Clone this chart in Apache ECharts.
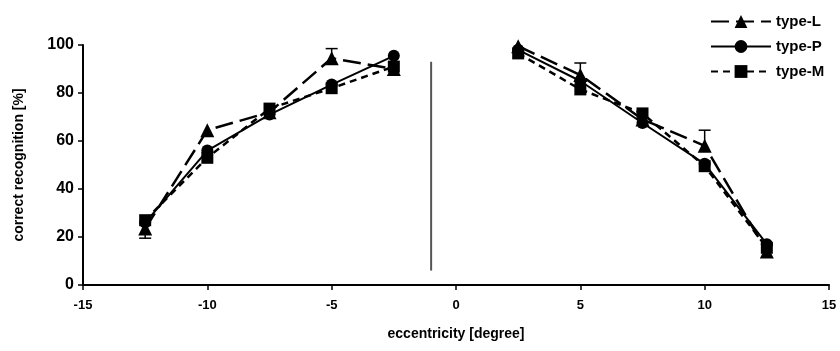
<!DOCTYPE html>
<html><head><meta charset="utf-8">
<script src="https://cdn.jsdelivr.net/npm/echarts@6/dist/echarts.min.js"></script>
<style>html,body{margin:0;padding:0;background:#fff}#c{width:840px;height:351px}</style>
</head><body><div id="c"></div>
<script>
const xLeft = [-12.5, -10, -7.5, -5, -2.5];
const xRight = [2.5, 5, 7.5, 10, 12.5];
const typeL_left = [23.5, 64.5, 72, 94.5, 90];
const typeL_right = [99.5, 87.5, 69, 58, 14];
const typeP_left = [26, 56, 71, 83.5, 95.5];
const typeP_right = [98, 85, 67.5, 50.5, 17];
const typeM_left = [27, 53, 73.5, 82, 91];
const typeM_right = [96.5, 81.5, 71.5, 49.5, 15.5];
// error bars: [x, center, low, high]
const errL = [[-12.5, 23.5, 19.5, 23.5], [-5, 94.5, 94.5, 98.5], [5, 87.5, 87.5, 92.5], [10, 58, 58, 64.5]];
const divider = [[-1, 93], [-1, 6]];
const xTicks = [-15, -10, -5, 0, 5, 10, 15];
const yTicks = [0, 20, 40, 60, 80, 100];

const font = '"Liberation Sans", Arial, sans-serif';
const pair = (xs, ys) => xs.map((x, i) => [x, ys[i]]);
const styles = {
  'type-L': {symbol: 'triangle', size: 14, dash: [18, 7], width: 2.5},
  'type-P': {symbol: 'circle', size: 12, dash: 'solid', width: 2},
  'type-M': {symbol: 'rect', size: 12, dash: [7, 5], width: 2.5}
};
function mk(name, data) {
  const s = styles[name];
  return {
    name, type: 'line', data, symbol: s.symbol, symbolSize: s.size,
    itemStyle: {color: '#000'},
    lineStyle: {color: '#000', width: s.width, type: s.dash},
    animation: false, z: 3
  };
}
const series = [
  {type: 'custom', name: 'err', data: errL, z: 2, animation: false,
   renderItem: (params, api) => {
     const x = api.value(0);
     const p1 = api.coord([x, api.value(2)]);
     const p2 = api.coord([x, api.value(3)]);
     const lowEnd = api.value(2) < api.value(1);
     const capY = lowEnd ? p1[1] : p2[1];
     const st = {stroke: '#000', lineWidth: 1.5};
     return {type: 'group', children: [
       {type: 'line', shape: {x1: p1[0], y1: p1[1], x2: p2[0], y2: p2[1]}, style: st},
       {type: 'line', shape: {x1: p1[0] - 6, y1: capY, x2: p1[0] + 6, y2: capY}, style: st}
     ]};
   }},
  {type: 'line', name: 'div', data: divider, symbol: 'none', lineStyle: {color: '#555', width: 2}, animation: false, z: 1},
  mk('type-L', pair(xLeft, typeL_left)), mk('type-L', pair(xRight, typeL_right)),
  mk('type-P', pair(xLeft, typeP_left)), mk('type-P', pair(xRight, typeP_right)),
  mk('type-M', pair(xLeft, typeM_left)), mk('type-M', pair(xRight, typeM_right))
];
const chart = echarts.init(document.getElementById('c'));
chart.setOption({
  backgroundColor: '#fff',
  animation: false,
  grid: {left: 83, right: 11, top: 45, bottom: 66},
  legend: {
    data: ['type-L', 'type-P', 'type-M'], orient: 'vertical', left: 705, top: 9,
    itemWidth: 60, itemHeight: 16, itemGap: 10,
    textStyle: {fontFamily: font, fontWeight: 'bold', fontSize: 15, color: '#000'}
  },
  xAxis: {
    type: 'value', min: xTicks[0], max: xTicks[xTicks.length - 1], interval: 5,
    axisLine: {onZero: false, lineStyle: {color: '#000', width: 2}},
    axisTick: {show: true, length: 5, lineStyle: {color: '#000', width: 1.5}},
    splitLine: {show: false},
    axisLabel: {fontFamily: font, fontWeight: 'bold', fontSize: 13, color: '#000', margin: 14},
    name: 'eccentricity [degree]', nameLocation: 'middle', nameGap: 42,
    nameTextStyle: {fontFamily: font, fontWeight: 'bold', fontSize: 14, color: '#000'}
  },
  yAxis: {
    type: 'value', min: yTicks[0], max: yTicks[yTicks.length - 1], interval: 20,
    axisLine: {show: true, onZero: false, lineStyle: {color: '#000', width: 2}},
    axisTick: {show: true, length: 5, lineStyle: {color: '#000', width: 1.5}},
    splitLine: {show: false},
    axisLabel: {fontFamily: font, fontWeight: 'bold', fontSize: 16, color: '#000', margin: 9},
    name: 'correct recognition [%]', nameLocation: 'middle', nameGap: 57, nameRotate: 90,
    nameTextStyle: {fontFamily: font, fontWeight: 'bold', fontSize: 14, color: '#000'}
  },
  series
});
</script></body></html>
